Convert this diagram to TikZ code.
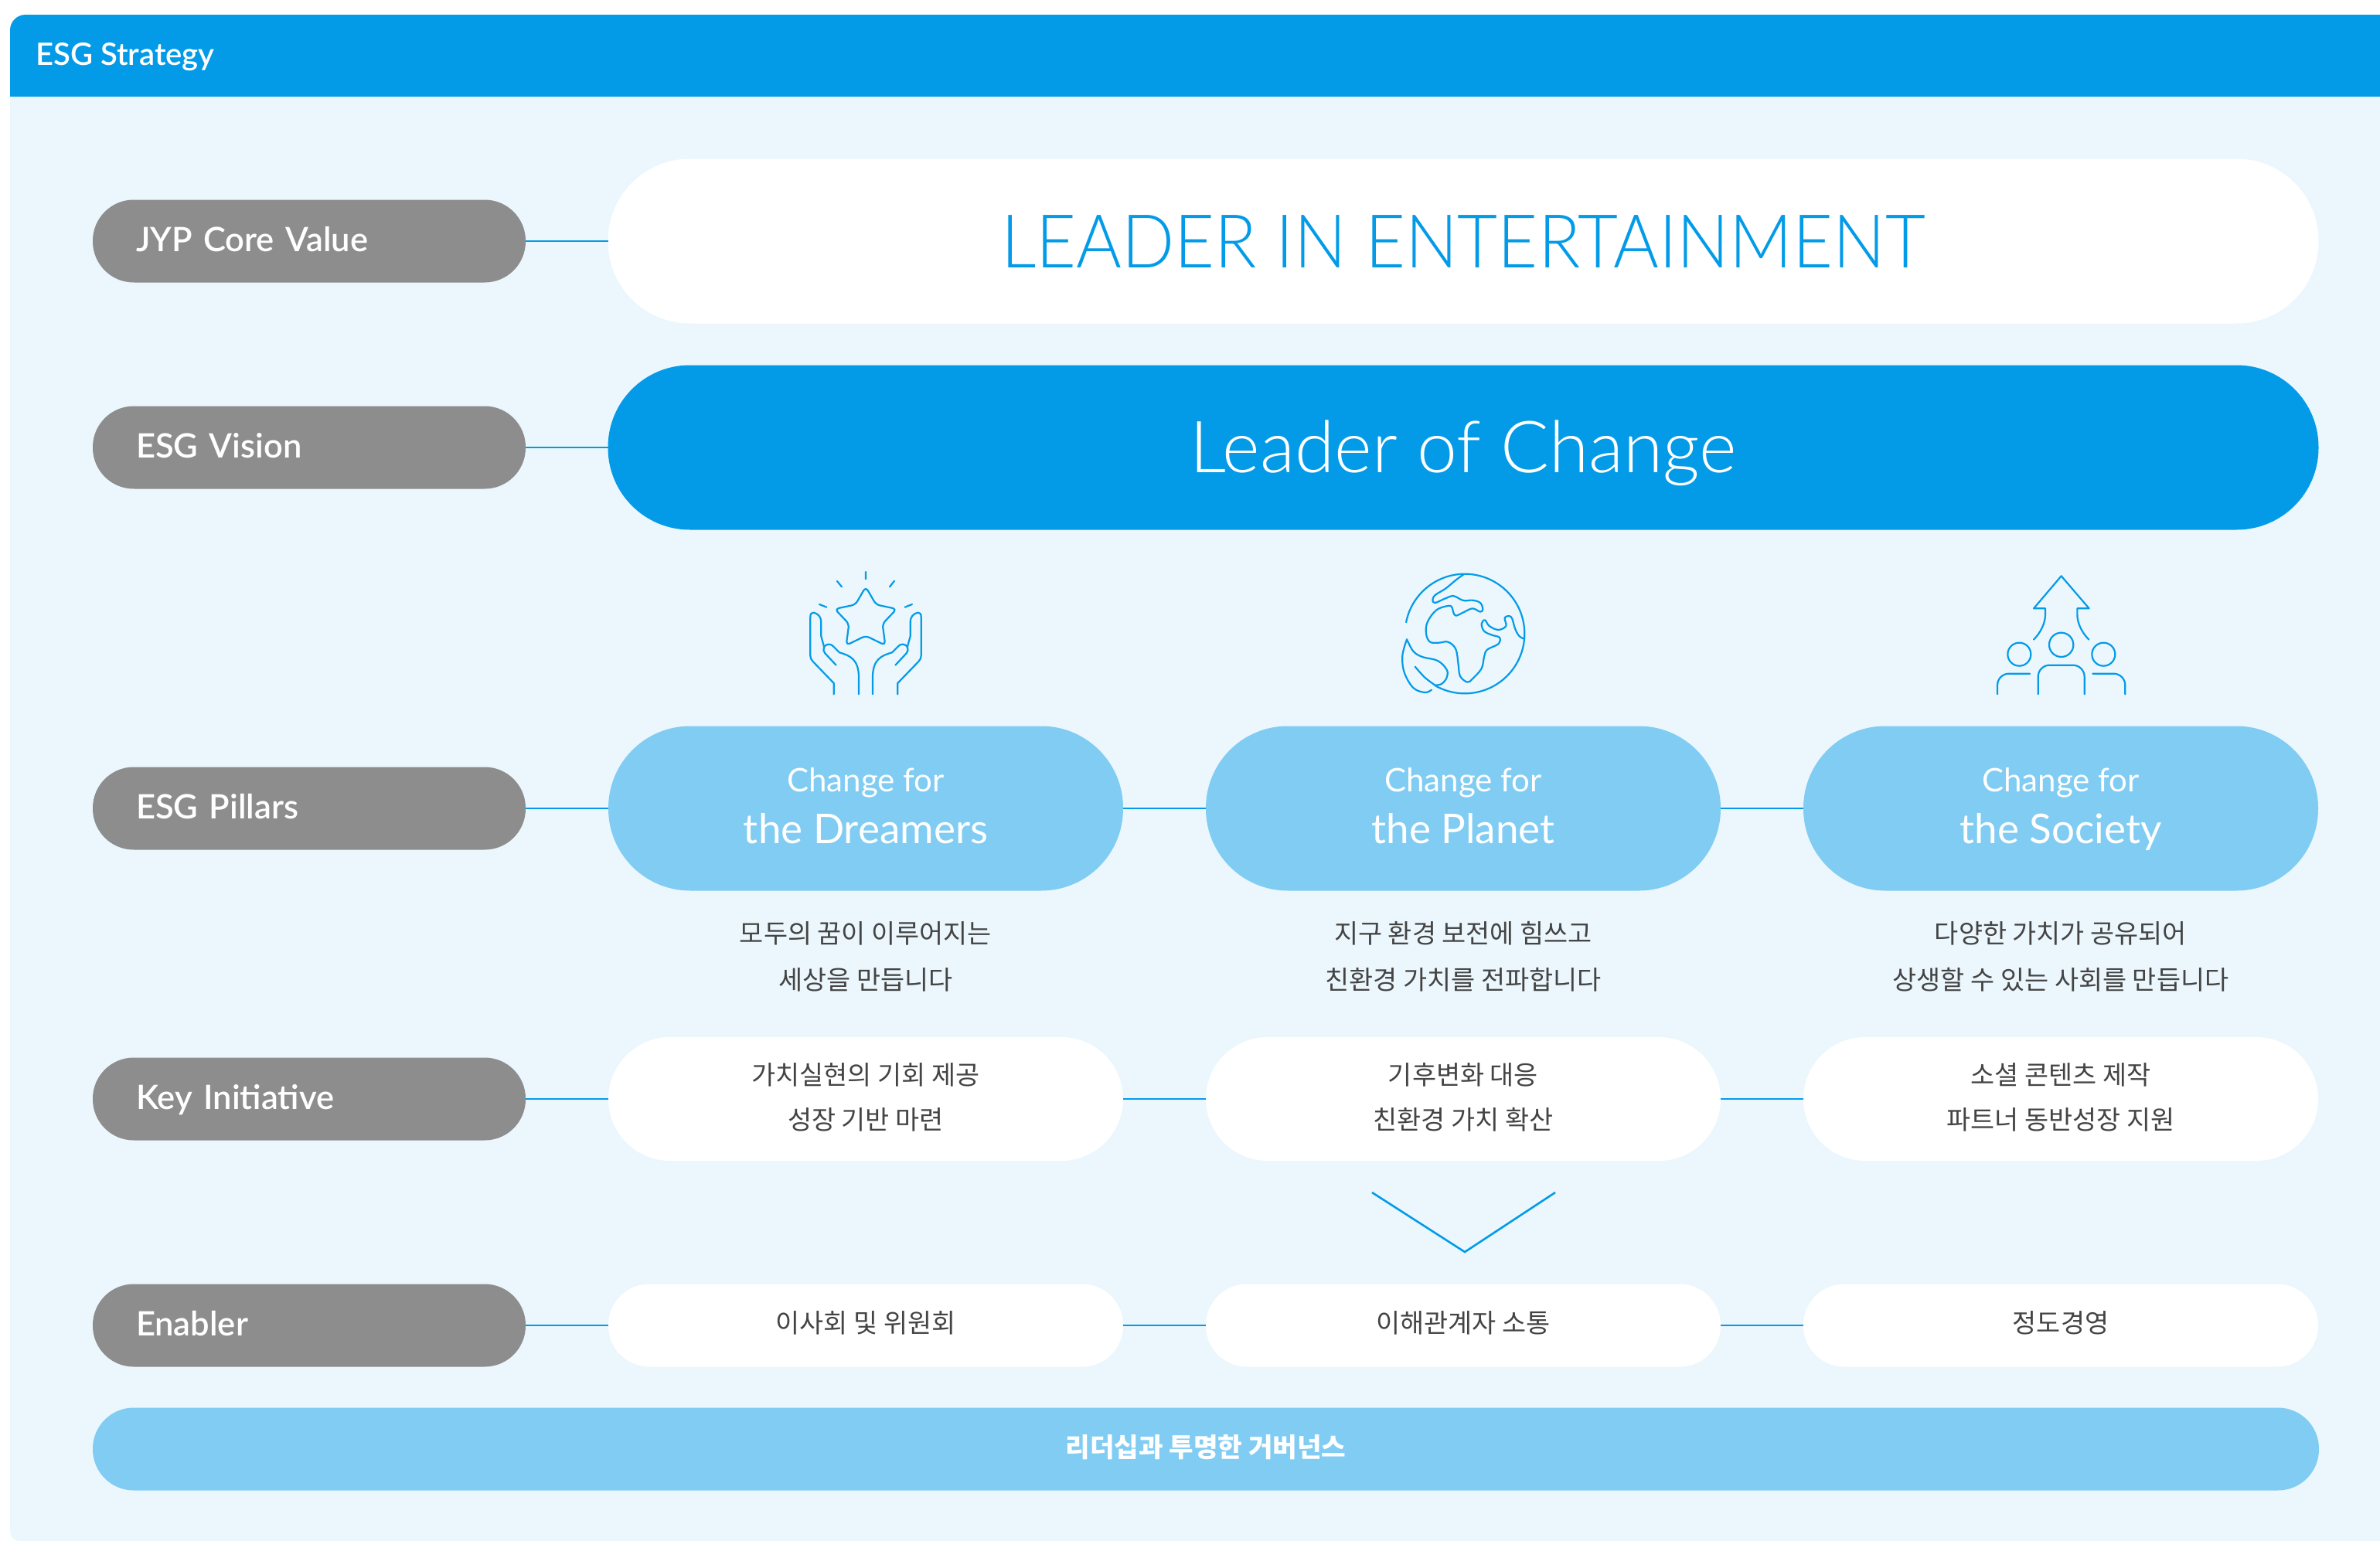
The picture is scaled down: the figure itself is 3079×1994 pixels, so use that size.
\documentclass[tikz,border=0pt]{standalone}
\usepackage{fontspec}
\setmainfont{Lato}
\newfontfamily\latolight{Lato Light}
\newfontfamily\latomed{Lato Semibold}
\newfontfamily\kr{Noto Sans CJK KR}
\definecolor{mainblue}{HTML}{039BE8}
\definecolor{lightblue}{HTML}{80CCF3}
\definecolor{panel}{HTML}{EBF7FD}
\definecolor{greypill}{HTML}{8D8D8D}
\definecolor{ink}{HTML}{444444}
\newcommand{\fs}[1]{\fontsize{#1}{#1}\selectfont}
% text whose baseline lies #1 below the centre of its node
\newcommand{\bl}[2]{\raisebox{-#1pt}[0pt][0pt]{\makebox[0pt]{#2}}}
\newcommand{\pl}[2]{{\fs{42}\bl{-21.5}{#1}}{\fs{53}\bl{45.5}{#2}}}
\newcommand{\ki}[2]{\bl{-19}{#1}\bl{39}{#2}}
\newcommand{\lab}[1]{\raisebox{-13pt}[0pt][0pt]{#1}}
\tikzset{
  x=1pt,y=-1pt,
  pill/.style={rectangle,inner sep=0pt,outer sep=0pt},
  graylabel/.style={pill,fill=greypill,text=white,minimum width=560pt,minimum height=107pt,rounded corners=53pt,font=\latomed\fs{43.5},text width=448pt,align=left},
  colpill/.style={pill,minimum width=666pt},
  pillar/.style={colpill,fill=lightblue,text=white,minimum height=213pt,rounded corners=106pt},
  keypill/.style={colpill,fill=white,text=ink,minimum height=160pt,rounded corners=80pt,font=\kr\fs{33.8}},
  enpill/.style={colpill,fill=white,text=ink,minimum height=107pt,rounded corners=53pt,font=\kr\fs{33.8}},
  desc/.style={inner sep=0pt,align=center,text=ink,font=\kr\fs{33.8}},
  link/.style={draw=mainblue,line width=1.6pt},
  icon/.style={draw=mainblue,line width=2.2pt,line cap=round,line join=round},
}
\begin{document}
\begin{tikzpicture}
\useasboundingbox (0,0) rectangle (3079,1994);
% panel and header
\fill[panel] (3079,125) -- (13,125) [rounded corners=12pt] -- (13,1994) [sharp corners] -- (3079,1994) -- cycle;
\fill[mainblue] (13,125) [rounded corners=20pt] -- (13,19) [sharp corners] -- (3079,19) -- (3079,125) -- cycle;
\node[anchor=base west,inner sep=0pt,text=white,font=\latomed\fs{40}] (title) at (46,84) {ESG Strategy};
% left labels
\node[graylabel] (lcore) at (400,312) {\lab{JYP Core Value}};
\node[graylabel] (lvision) at (400,579) {\lab{ESG Vision}};
\node[graylabel] (lpillar) at (400,1046) {\lab{ESG Pillars}};
\node[graylabel] (lkey) at (400,1422) {\lab{Key Initiative}};
\node[graylabel] (lenable) at (400,1715) {\lab{Enabler}};
% top pills
\node[pill,fill=white,text=mainblue,minimum width=2213pt,minimum height=213pt,rounded corners=106pt,font=\latolight\fs{96}] (core) at (1893,312) {\bl{34.5}{\scalebox{0.935}[1]{LEADER IN ENTERTAINMENT}}};
\node[pill,fill=mainblue,text=white,minimum width=2213pt,minimum height=213pt,rounded corners=106pt,font=\latolight\fs{93}] (vision) at (1893,579) {\bl{32}{Leader of Change}};
% pillars
\node[pillar] (p1) at (1120,1046) {\pl{Change for}{the Dreamers}};
\node[pillar] (p2) at (1893,1046) {\pl{Change for}{the Planet}};
\node[pillar] (p3) at (2666,1046) {\pl{Change for}{the Society}};
% descriptions
\node[desc] (d1) at (1120,1238) {모두의 꿈이 이루어지는\\[26pt]세상을 만듭니다};
\node[desc] (d2) at (1893,1238) {지구 환경 보전에 힘쓰고\\[26pt]친환경 가치를 전파합니다};
\node[desc] (d3) at (2666,1238) {다양한 가치가 공유되어\\[26pt]상생할 수 있는 사회를 만듭니다};
% key initiative
\node[keypill] (k1) at (1120,1422) {\ki{가치실현의 기회 제공}{성장 기반 마련}};
\node[keypill] (k2) at (1893,1422) {\ki{기후변화 대응}{친환경 가치 확산}};
\node[keypill] (k3) at (2666,1422) {\ki{소셜 콘텐츠 제작}{파트너 동반성장 지원}};
% enablers
\node[enpill] (e1) at (1120,1715) {\bl{9}{이사회 및 위원회}};
\node[enpill] (e2) at (1893,1715) {\bl{9}{이해관계자 소통}};
\node[enpill] (e3) at (2666,1715) {\bl{9}{정도경영}};
\node[pill,fill=lightblue,text=white,minimum width=2880pt,minimum height=107pt,rounded corners=53pt,font=\kr\bfseries\fs{34.3}] (bar) at (1560,1875) {\bl{10}{리더십과 투명한 거버넌스}};
% connectors
\draw[link] (lcore.east) -- (core.west);
\draw[link] (lvision.east) -- (vision.west);
\draw[link] (lpillar.east) -- (p1.west);
\draw[link] (p1.east) -- (p2.west);
\draw[link] (p2.east) -- (p3.west);
\draw[link] (lkey.east) -- (k1.west);
\draw[link] (k1.east) -- (k2.west);
\draw[link] (k2.east) -- (k3.west);
\draw[link] (lenable.east) -- (e1.west);
\draw[link] (e1.east) -- (e2.west);
\draw[link] (e2.east) -- (e3.west);
% chevron
\coordinate (cha) at (1775,1543);
\coordinate (chb) at (1895,1620);
\coordinate (chc) at (2012,1543);
\draw[draw=mainblue,line width=2.6pt] (cha) -- (chb) -- (chc);
% hands and star icon
\begin{scope}[shift={(1000,720)},x=0.3333pt,y=-0.3333pt]
\draw[icon] (360,60)--(360,88) (249,96)--(267,118) (471,95)--(453,118) (180,186)--(208,197) (540,186)--(512,197);
\draw[icon,rounded corners=5pt] (360,118)--(400,187)--(480,204)--(425,262)--(436,345)--(360,308)--(284,345)--(295,262)--(240,204)--(320,187)--cycle;
\draw[icon] (236,535)--(236,492)--(155,408) .. controls (148,400) and (145,395) .. (145,385) -- (145,235) .. controls (145,222) and (150,218) .. (158,218) .. controls (175,222) and (187,235) .. (187,255) -- (187,310) -- (198,350);
\draw[icon] (245,422)--(202,376) .. controls (190,362) and (198,342) .. (215,341) .. controls (225,340) and (230,345) .. (235,350) -- (258,373) .. controls (300,385) and (333,400) .. (333,470) -- (333,535);
\draw[icon] (484,535)--(484,492)--(565,408) .. controls (572,400) and (575,395) .. (575,385) -- (575,235) .. controls (575,222) and (570,218) .. (562,218) .. controls (545,222) and (533,235) .. (533,255) -- (533,310) -- (522,350);
\draw[icon] (475,422)--(518,376) .. controls (530,362) and (522,342) .. (505,341) .. controls (495,340) and (490,345) .. (485,350) -- (462,373) .. controls (420,385) and (387,400) .. (387,470) -- (387,535);
\end{scope}
% globe icon
\begin{scope}[shift={(1790,720)},x=0.3333pt,y=-0.3333pt]
\draw[icon] plot[domain=191:480,samples=120,smooth] ({315+232*cos(\x)},{300+232*sin(\x)});
\draw[icon] plot[smooth,tension=0.6] coordinates {(310,70)(280,92)(240,125)(200,150)(190,170)(200,180)(235,165)(270,153)(295,165)(315,172)(345,170)(375,180)(385,205)(375,215)(345,202)(310,217)(280,230)(270,215)(265,197)(250,192)(205,208)(170,255)(165,300)(180,332)(215,335)(250,332)(280,360)(290,420)(297,465)(325,488)(345,475)(380,435)(390,390)(402,362)(445,340)(450,315)(420,305)(390,290)(380,262)(393,247)(410,270)(445,285)(475,270)(470,238)(495,235)(510,280)(525,308)(545,320)};
\draw[icon] plot[smooth,tension=0.6] coordinates {(90,322)(73,385)(80,450)(115,510)(160,528)(186,518)};
\draw[icon] plot[smooth,tension=0.6] coordinates {(90,322)(115,368)(150,390)(210,405)(245,440)(245,470)(225,495)(200,500)};
\draw[icon] plot[smooth,tension=0.6] coordinates {(122,428)(160,470)(200,500)};
\end{scope}
% people icon
\begin{scope}[shift={(2560,720)},x=0.3333pt,y=-0.3333pt]
\draw[icon] (213,323) .. controls (240,295) and (258,260) .. (258,225) -- (258,202) -- (213,202) -- (320,76) -- (428,202) -- (382,202) -- (382,225) .. controls (382,260) and (400,295) .. (427,323);
\draw[icon] (320,343) circle[radius=47];
\draw[icon] (157,380) circle[radius=45];
\draw[icon] (484,380) circle[radius=45];
\draw[icon,rounded corners=15pt] (230,535)--(230,422)--(410,422)--(410,535);
\draw[icon,rounded corners=15pt] (72,535)--(72,455)--(198,455);
\draw[icon,rounded corners=15pt] (568,535)--(568,455)--(442,455);
\end{scope}
\end{tikzpicture}
\end{document}
